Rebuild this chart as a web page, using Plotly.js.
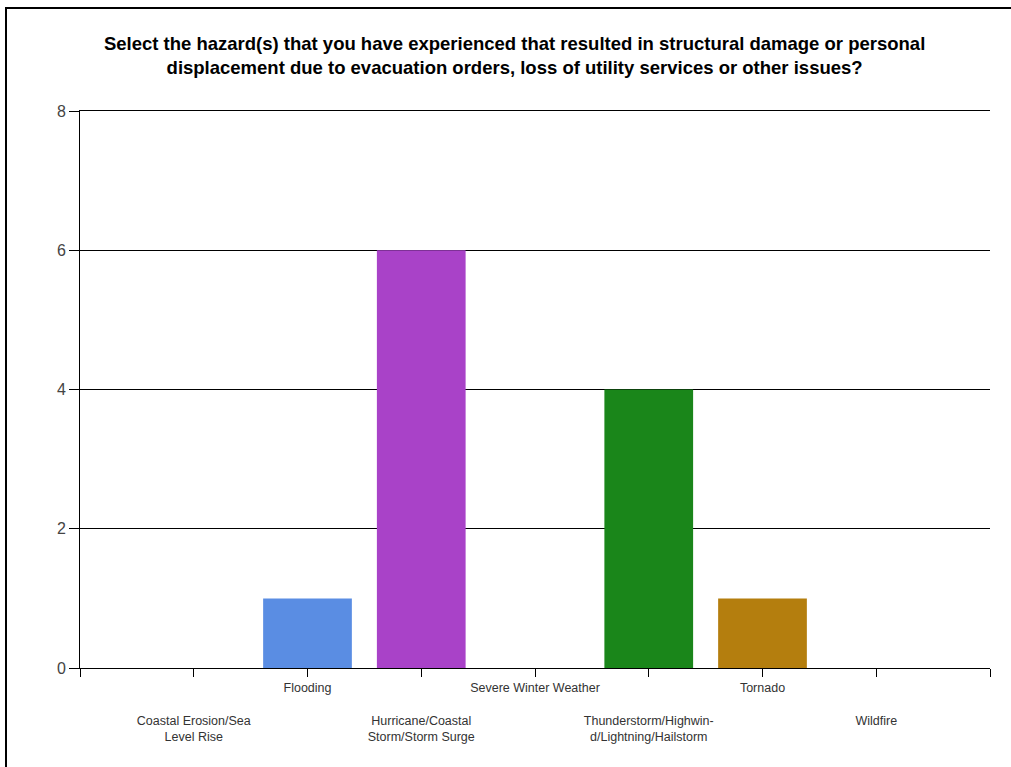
<!DOCTYPE html>
<html>
<head>
<meta charset="utf-8">
<script src="https://cdn.plot.ly/plotly-3.0.1.min.js"></script>
<style>
  html, body { margin: 0; padding: 0; background: #fff; }
  #chart { width: 1011px; height: 767px; position: absolute; left: 0; top: 0; }
  #frame { position: absolute; left: 5px; top: 7px; width: 1010px; height: 770px;
           border-left: 2px solid #000; border-top: 2px solid #000; pointer-events: none; }
</style>
</head>
<body>
<div id="chart"></div>
<div id="frame"></div>
<script>
const categories = [
  "Coastal Erosion/Sea<br>Level Rise",
  "Flooding",
  "Hurricane/Coastal<br>Storm/Storm Surge",
  "Severe Winter Weather",
  "Thunderstorm/Highwin-<br>d/Lightning/Hailstorm",
  "Tornado",
  "Wildfire"
];
const counts = [0, 1, 6, 0, 4, 1, 0];
const barColors = ["#6f6f6f", "#5a8de3", "#a942c8", "#5a5a5a", "#1a861a", "#b47e0e", "#808080"];
const yTicks = [0, 2, 4, 6, 8];

const idx = categories.map((_, i) => i);
// staggered labels: even indices go on the second row
const tickVals = [-1].concat(idx, [categories.length]);
const tickText = [""].concat(categories.map((c, i) => (i % 2 === 0 ? "<br><br>" + c : c)), [""]);
const yMax = yTicks[yTicks.length - 1];

const trace = {
  type: "bar",
  x: idx,
  y: counts,
  width: 0.78,
  marker: { color: barColors, line: { width: 0 } },
  hoverinfo: "x+y",
  showlegend: false
};

const layout = {
  width: 1011,
  height: 767,
  margin: { l: 80, r: 21, t: 111, b: 99 },
  paper_bgcolor: "#fff",
  plot_bgcolor: "#fff",
  font: { family: "Arial, 'Liberation Sans', sans-serif", color: "#333" },
  title: {
    text: "Select the hazard(s) that you have experienced that resulted in structural damage or personal<br>displacement due to evacuation orders, loss of utility services or other issues?",
    font: { size: 18.5, color: "#000", family: "Arial, 'Liberation Sans', sans-serif", weight: "bold" },
    x: 0.509, xanchor: "center",
    y: 0.935, yanchor: "middle", yref: "container"
  },
  xaxis: {
    type: "linear",
    range: [-1, categories.length],
    tickmode: "array",
    tickvals: tickVals,
    ticktext: tickText,
    ticks: "outside",
    ticklen: 8,
    tickcolor: "#000",
    tickwidth: 1,
    showgrid: false,
    zeroline: false,
    showline: true,
    mirror: true,
    linecolor: "#000",
    linewidth: 1,
    tickfont: { size: 12.5, color: "#333" },
    tickangle: 0,
    fixedrange: true
  },
  yaxis: {
    range: [0, yMax],
    tickmode: "array",
    tickvals: yTicks,
    ticks: "outside",
    ticklen: 10,
    tickcolor: "#000",
    showgrid: true,
    gridcolor: "#000",
    gridwidth: 1,
    zeroline: false,
    showline: true,
    linecolor: "#000",
    linewidth: 1,
    tickfont: { size: 16, color: "#444" },
    fixedrange: true
  },
  bargap: 0.22
};

Plotly.newPlot("chart", [trace], layout, { displayModeBar: false, staticPlot: true });
</script>
</body>
</html>
